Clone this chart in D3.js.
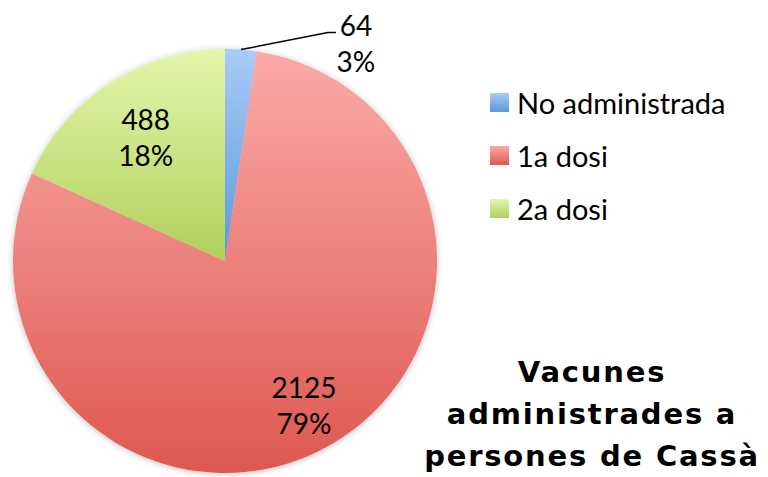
<!DOCTYPE html>
<html>
<head>
<meta charset="utf-8">
<script src="https://cdn.jsdelivr.net/npm/d3@7"></script>
<style>
  body { margin: 0; background: #fff; }
  svg { display: block; }
  .lbl { font-family: Lato, 'Open Sans', sans-serif; font-size: 28px; fill: #000; }
  .legend-lbl { font-size: 29px; }
  .title { font-family: 'DejaVu Sans', sans-serif; font-weight: bold; font-size: 29px; letter-spacing: 1.8px; fill: #000; }
</style>
</head>
<body>
<div id="chart"></div>
<script>
const categories = ['No administrada', '1a dosi', '2a dosi']
const values = [64, 2125, 488]
const pctLabels = ['3%', '79%', '18%']
const topColors = ['#a9cbf8', '#fbaaa8', '#e4f6ab']
const bottomColors = ['#5b98da', '#de5850', '#b0d05c']
const titleLines = ['Vacunes', 'administrades a', 'persones de Cassà']

const W = 768, H = 477
const cx = 225, cy = 261, r = 212

const svg = d3.select('#chart').append('svg')
    .attr('width', W)
    .attr('height', H)

const defs = svg.append('defs')
categories.forEach((c, i) => {
    const g = defs.append('linearGradient')
        .attr('id', 'grad' + i)
        .attr('x1', 0).attr('y1', 0).attr('x2', 0).attr('y2', 1)
    g.append('stop').attr('offset', '0%').attr('stop-color', topColors[i])
    g.append('stop').attr('offset', '100%').attr('stop-color', bottomColors[i])
})
const shadow = defs.append('filter').attr('id', 'shadow')
    .attr('x', '-10%').attr('y', '-10%').attr('width', '120%').attr('height', '120%')
shadow.append('feDropShadow')
    .attr('dx', 0).attr('dy', 1).attr('stdDeviation', 3)
    .attr('flood-color', '#000').attr('flood-opacity', 0.25)

const pie = d3.pie().sort(null).value(d => d)
const arcs = pie(values)
const arc = d3.arc().innerRadius(0).outerRadius(r)

const g = svg.append('g').attr('transform', `translate(${cx},${cy})`)

g.append('g').attr('filter', 'url(#shadow)')
  .selectAll('path')
  .data(arcs)
  .join('path')
    .attr('d', arc)
    .attr('fill', (d, i) => `url(#grad${i})`)

// labels inside the big slices
const inside = arcs.map((d, i) => ({d, i})).filter(o => o.d.endAngle - o.d.startAngle > 0.3)
inside.forEach(({d, i}) => {
    const k = d.endAngle - d.startAngle > Math.PI ? 0.78 : 0.69
    const c = d3.arc().innerRadius(r * k).outerRadius(r * k).centroid(d)
    const t = g.append('text').attr('class', 'lbl').attr('text-anchor', 'middle')
    t.append('tspan').attr('x', c[0]).attr('y', c[1] - 8).text(values[i])
    t.append('tspan').attr('x', c[0]).attr('y', c[1] + 28).text(pctLabels[i])
})

// small slice: outside label with leader line
arcs.forEach((d, i) => {
    if (d.endAngle - d.startAngle > 0.3) return
    const mid = (d.startAngle + d.endAngle) / 2
    const p0 = [r * Math.sin(mid), -r * Math.cos(mid)]
    const p1 = [p0[0] + 87, p0[1] - 17]
    const p2 = [p1[0] + 8, p1[1]]
    g.append('polyline')
        .attr('points', [p0, p1, p2].map(p => p.join(',')).join(' '))
        .attr('fill', 'none')
        .attr('stroke', '#000')
        .attr('stroke-width', 1.5)
    const t = g.append('text').attr('class', 'lbl').attr('text-anchor', 'middle')
    t.append('tspan').attr('x', p2[0] + 20).attr('y', p2[1] + 3).text(values[i])
    t.append('tspan').attr('x', p2[0] + 20).attr('y', p2[1] + 39).text(pctLabels[i])
})

// legend
const legend = svg.append('g').attr('transform', 'translate(490,93)')
const row = legend.selectAll('g')
  .data(categories)
  .join('g')
    .attr('transform', (d, i) => `translate(0,${i * 53})`)
row.append('rect')
    .attr('width', 19).attr('height', 19)
    .attr('fill', (d, i) => `url(#grad${i})`)
row.append('text')
    .attr('class', 'lbl legend-lbl')
    .attr('x', 27)
    .attr('y', 21)
    .text(d => d)

// title
const title = svg.append('text').attr('class', 'title').attr('text-anchor', 'middle')
titleLines.forEach((s, i) => {
    title.append('tspan').attr('x', 592).attr('y', 382 + i * 42).text(s)
})
</script>
</body>
</html>
